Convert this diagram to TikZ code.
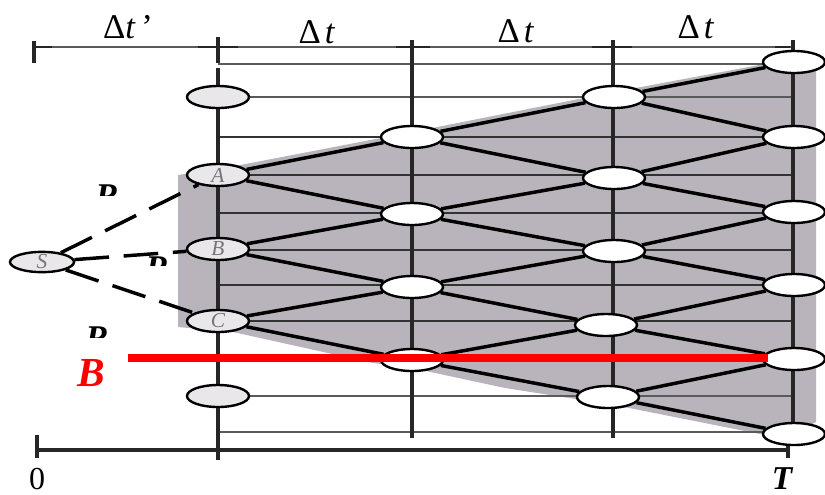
\documentclass[tikz,border=0pt]{standalone}
\usepackage{fontspec}
\setmainfont{Liberation Serif}
\usepackage{tikz}
\usetikzlibrary{shapes.geometric,arrows.meta,positioning}
\definecolor{latgrey} {HTML}{B9B4BB}
\definecolor{nodegrey}{HTML}{E9E7E9}
\definecolor{lettgrey}{HTML}{77757A}
\definecolor{thinline}{HTML}{5A5A5A}

\begin{document}
\begin{tikzpicture}[
  vtx/.style={draw=black,line width=1.8pt,fill=white,ellipse,inner sep=0pt,
              minimum width=46.5pt,minimum height=16.5pt},
  vtxg/.style={vtx,fill=nodegrey,text=lettgrey,font=\fontsize{16}{16}\selectfont\itshape},
  latt/.style={line width=2.6pt,black},
  vert/.style={line width=2.6pt,black!85},
  tick/.style={line width=1.8pt,black!85},
  hlev/.style={line width=1.5pt,black!80},
  hthin/.style={line width=1.1pt,thinline},
  slink/.style={line width=2.6pt,black,dash pattern=on 26pt off 11pt},
  lbl/.style={font=\fontsize{26}{28}\selectfont,inner sep=0pt},
  frag/.style={font=\fontsize{26}{28}\selectfont\bfseries\itshape,inner sep=0pt},
  x=0.75pt, y=-0.75pt
]
\useasboundingbox (0,0) rectangle (825,494);

%% Shaded lattice region
\fill[latgrey] (178,175) -- (230,167) -- (412,132) -- (614,92) -- (770,63)
  -- (816,63) -- (816,422) -- (792,434) -- (760,434) -- (614,405) -- (505,388)
  -- (412,368) -- (373,363) -- (233,332) -- (178,327) -- cycle;

%% Time axes
\draw[hthin] (34,47) -- (792,47);
\draw[vert] (34,41) -- (34,63);
\draw[tick] (34,47) -- (52,47);
\draw[tick] (198,47) -- (238,47);
\draw[tick] (396,47) -- (430,47);
\draw[tick] (592,47) -- (632,47);
\draw[tick] (775,47) -- (790,47);
\draw[vert] (37,435) -- (37,458);
\draw[vert] (37,450) -- (788,450);

%% Horizontal levels
\draw[hthin] (218,64)  -- (792,64);
\draw[hthin] (218,97)  -- (792,97);
\draw[hlev] (218,137) -- (792,137);
\draw[hlev] (218,175) -- (792,175);
\draw[hlev] (218,213) -- (792,213);
\draw[hlev] (218,250) -- (792,250);
\draw[hlev] (218,285) -- (792,285);
\draw[hlev] (218,321) -- (792,321);
\draw[hthin] (218,396) -- (792,396);
\draw[hthin] (218,432) -- (792,432);

%% Time lines
\draw[vert] (218,37) -- (218,63);
\draw[vert] (218,68) -- (218,460);
\draw[vert] (412,40) -- (412,438);
\draw[vert] (613,40) -- (613,438);
\draw[vert] (793,40) -- (793,434);
\draw[vert] (788,434) -- (788,458);

%% Nodes, column by column
\node[vtxg]         (u1) at (218,97)  {};
\node[vtxg]         (A)  at (218,175) {A};
\node[vtxg]         (B)  at (218,249) {B};
\node[vtxg]         (C)  at (218,321) {C};
\node[vtxg]         (u2) at (218,396) {};
\node[vtx]          (v1) at (412,137) {};
\node[vtx]          (v2) at (412,214) {};
\node[vtx]          (v3) at (412,287) {};
\node[vtx]          (v4) at (412,360) {};
\node[vtx]          (w1) at (614,97)  {};
\node[vtx]          (w2) at (614,178) {};
\node[vtx]          (w3) at (614,251) {};
\node[vtx]          (w4) at (606,325) {};
\node[vtx]          (w5) at (608,397) {};
\node[vtx]          (z1) at (794,62)  {};
\node[vtx]          (z2) at (794,137) {};
\node[vtx]          (z3) at (794,212) {};
\node[vtx]          (z4) at (794,285) {};
\node[vtx]          (z5) at (794,359) {};
\node[vtx]          (z6) at (794,434) {};
\node[vtxg,minimum width=48pt,minimum height=15pt] (S) at (42,262) {S};

%% Lattice edges
\draw[latt] (A) -- (v1);
\draw[latt] (A) -- (v2);
\draw[latt] (B) -- (v2);
\draw[latt] (B) -- (v3);
\draw[latt] (C) -- (v3);
\draw[latt] (C) -- (v4);
\draw[latt] (v1) -- (w1);
\draw[latt] (v1) -- (w2);
\draw[latt] (v2) -- (w2);
\draw[latt] (v2) -- (w3);
\draw[latt] (v3) -- (w3);
\draw[latt] (v3) -- (w4);
\draw[latt] (v4) -- (w4);
\draw[latt] (v4) -- (w5);
\draw[latt] (w1) -- (z1);
\draw[latt] (w1) -- (z2);
\draw[latt] (w2) -- (z2);
\draw[latt] (w2) -- (z3);
\draw[latt] (w3) -- (z3);
\draw[latt] (w3) -- (z4);
\draw[latt] (w4) -- (z4);
\draw[latt] (w4) -- (z5);
\draw[latt] (w5) -- (z5);
\draw[latt] (w5) -- (z6);

%% Dashed links from S
\draw[slink] (S) -- (A);
\draw[slink] (S) -- (B);
\draw[slink] (S) -- (C);

%% Cut-off letters
\begin{scope}
  \clip (90,184) rectangle (125,195);
  \node[frag] (ra) at (107,196) {R};
\end{scope}
\begin{scope}
  \clip (140,256) rectangle (175,265);
  \node[frag] (rb) at (157,268) {R};
\end{scope}
\begin{scope}
  \clip (80,326) rectangle (115,337);
  \node[frag] (rc) at (97,338) {R};
\end{scope}

%% Barrier
\coordinate (barL) at (128,358);
\coordinate (barR) at (768,358);
\draw[red,line width=5.4pt] (barL) -- (barR);
\node[text=red,font=\fontsize{31}{32}\selectfont\bfseries\itshape,inner sep=0pt] (blab) at (91,373) {B};

%% Axis labels
\node[lbl] (d0) at (128,27) {Δ\textit{t}\,'};
\node[lbl] (d1) at (317,32) {Δ\hspace{3pt}\textit{t}};
\node[lbl] (d2) at (516,31) {Δ\hspace{3pt}\textit{t}};
\node[lbl] (d3) at (696,27) {Δ\hspace{3pt}\textit{t}};
\node[font=\fontsize{24}{25}\selectfont,inner sep=0pt] (zero) at (37,479) {0};
\node[font=\fontsize{25}{26}\selectfont\bfseries\itshape,inner sep=0pt] (tlab) at (782,479) {T};

\end{tikzpicture}
\end{document}
